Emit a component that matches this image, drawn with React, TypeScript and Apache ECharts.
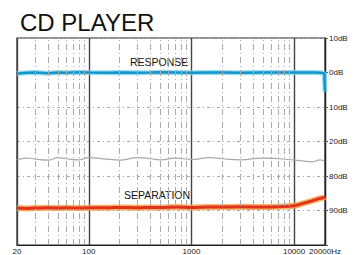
import React, { useEffect, useRef } from "react";
import * as echarts from "echarts";

// Frequencies (Hz) of the traced points
const freqs = [20, 25, 30, 40, 50, 60, 80, 100, 150, 200, 300, 400, 500, 700, 1000, 1500, 2000, 3000, 5000, 7000, 10000, 12000, 15000, 18000, 19700, 20000];

// Values in axis units (0 = bottom of chart, each unit = one labelled grid step)
const responseVals = [4.97, 4.99, 5.0, 4.98, 5.0, 4.99, 5.01, 5.0, 4.99, 5.0, 4.99, 5.0, 5.01, 5.0, 4.99, 5.0, 5.0, 4.99, 5.0, 5.0, 5.0, 5.0, 5.0, 4.99, 4.98, 4.45];
const noiseVals = [2.47, 2.52, 2.49, 2.46, 2.53, 2.5, 2.47, 2.53, 2.49, 2.46, 2.53, 2.5, 2.47, 2.52, 2.48, 2.53, 2.5, 2.47, 2.52, 2.5, 2.46, 2.44, 2.41, 2.47, 2.44, 2.44];
const separationVals = [1.07, 1.06, 1.07, 1.08, 1.07, 1.08, 1.07, 1.08, 1.08, 1.09, 1.08, 1.09, 1.09, 1.1, 1.09, 1.1, 1.1, 1.11, 1.1, 1.11, 1.14, 1.2, 1.28, 1.35, 1.38, 1.39];

// Y tick labels, indexed by axis unit
const yLabels = ["", "90dB", "80dB", "20dB", "10dB", "0dB", "10dB"];
// Minor vertical grid frequencies
const minorFreqs = [30, 40, 50, 60, 70, 80, 90, 200, 300, 400, 500, 600, 700, 800, 900, 2000, 3000, 4000, 5000, 6000, 7000, 8000, 9000];

const title = "CD PLAYER";
const responseLabel = "RESPONSE";
const separationLabel = "SEPARATION";

export default function App() {
  const ref = useRef<HTMLDivElement>(null);
  useEffect(() => {
    if (!ref.current) return;
    const chart = echarts.init(ref.current, null, { renderer: "svg" });
    const pts = (vals: number[]) => freqs.map((f, i) => [f, vals[i]]);
    chart.setOption({
      animation: false,
      backgroundColor: "#ffffff",
      textStyle: { fontFamily: "Liberation Sans" },
      title: {
        text: title,
        left: 15,
        top: 5,
        textStyle: { fontSize: 24, fontWeight: "normal", color: "#111", fontFamily: "Liberation Sans" },
      },
      grid: { left: 17, right: 29, top: 38, bottom: 10, show: true, borderColor: "#222", borderWidth: 1.2 },
      xAxis: {
        type: "log",
        logBase: 10,
        min: 20,
        max: 20000,
        axisLine: { show: true, lineStyle: { color: "#222", width: 1.2 } },
        axisTick: { show: false },
        axisLabel: {
          show: true,
          showMinLabel: true,
          showMaxLabel: true,
          fontSize: 8,
          color: "#222",
          margin: 2,
          formatter: (v: number) => (Math.round(v) === 20000 ? "20000Hz" : String(Math.round(v))),
        },
        splitLine: { show: true, lineStyle: { color: "#444", width: 1.4 } },
      },
      yAxis: {
        type: "value",
        position: "right",
        min: 0,
        max: 6,
        interval: 1,
        axisLine: { show: true, lineStyle: { color: "#222", width: 1.2 } },
        axisTick: { show: true, inside: false, length: 3, lineStyle: { color: "#555" } },
        axisLabel: {
          fontSize: 8,
          color: "#222",
          margin: 4,
          formatter: (v: number) => yLabels[Math.round(v)] ?? "",
        },
        splitLine: { show: true, lineStyle: { color: "#aaa", width: 1, type: [3, 3, 1, 3] } },
      },
      graphic: [
        { type: "text", left: 130, top: 56, style: { text: responseLabel, fontSize: 10.5, fill: "#111", fontFamily: "Liberation Sans" } },
        { type: "text", left: 124, top: 189, style: { text: separationLabel, fontSize: 10.5, fill: "#111", fontFamily: "Liberation Sans" } },
      ],
      series: [
        {
          type: "line",
          name: "grid",
          data: [],
          markLine: {
            silent: true,
            symbol: "none",
            label: { show: false },
            lineStyle: { color: "#aaa", width: 1, type: [6, 3, 1, 3] },
            data: minorFreqs.map((f) => ({ xAxis: f })),
          },
        },
        {
          type: "line",
          name: "noise",
          data: pts(noiseVals),
          showSymbol: false,
          smooth: true,
          lineStyle: { color: "#a8a8a8", width: 1.2 },
        },
        {
          type: "line",
          name: "responseGlow",
          data: pts(responseVals),
          showSymbol: false,
          lineStyle: { color: "#7fd3ef", width: 5, opacity: 0.8 },
        },
        {
          type: "line",
          name: "response",
          data: pts(responseVals),
          showSymbol: false,
          lineStyle: { color: "#1596c8", width: 2.5 },
        },
        {
          type: "line",
          name: "separationGlow",
          data: pts(separationVals),
          showSymbol: false,
          smooth: true,
          lineStyle: { color: "#f7a24a", width: 6, opacity: 0.85 },
        },
        {
          type: "line",
          name: "separation",
          data: pts(separationVals),
          showSymbol: false,
          smooth: true,
          lineStyle: { color: "#e0321c", width: 3 },
        },
      ],
    });
    return () => chart.dispose();
  }, []);
  return (
    <div
      ref={ref}
      style={{ position: "fixed", left: 0, top: 0, width: 354, height: 255, background: "#fff" }}
    />
  );
}
